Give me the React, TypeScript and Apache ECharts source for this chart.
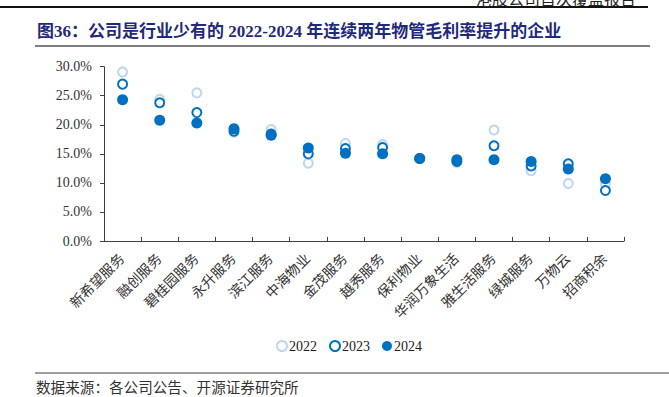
import React, { useEffect, useRef } from "react";
import * as echarts from "echarts";

const categories = [
  "新希望服务", "融创服务", "碧桂园服务", "永升服务", "滨江服务", "中海物业", "金茂服务",
  "越秀服务", "保利物业", "华润万象生活", "雅生活服务", "绿城服务", "万物云", "招商积余",
];
const values2022 = [29.1, 24.4, 25.5, 18.7, 19.2, 13.4, 16.8, 16.6, 14.2, 13.5, 19.1, 12.1, 9.9, 9.8];
const values2023 = [27.0, 23.8, 22.1, 18.9, 18.4, 15.0, 15.9, 16.1, 14.2, 13.7, 16.4, 12.9, 13.3, 8.7];
const values2024 = [24.3, 20.8, 20.3, 19.3, 18.2, 16.0, 15.1, 15.0, 14.2, 14.0, 14.0, 13.7, 12.4, 10.7];
const yTicks = { min: 0, max: 30, interval: 5 };

const titleText = "图36：公司是行业少有的 2022-2024 年连续两年物管毛利率提升的企业";
const headerText = "港股公司首次覆盖报告";
const sourceText = "数据来源：各公司公告、开源证券研究所";

const SERIF = "'Liberation Serif', 'Times New Roman', 'Noto Sans CJK SC', serif";
const CJK = "'Noto Sans CJK SC', sans-serif";

export default function App() {
  const ref = useRef<HTMLDivElement>(null);
  useEffect(() => {
    document.body.style.margin = "0";
    const chart = echarts.init(ref.current!, null, { renderer: "svg" });
    const dark = "#0070C0";
    const light = "#BDD7EE";
    chart.setOption({
      animation: false,
      backgroundColor: "#fff",
      grid: { left: 104, right: 45, top: 66.7, bottom: 156, containLabel: false },
      legend: {
        bottom: 39,
        left: 271,
        itemWidth: 10,
        itemHeight: 10,
        itemGap: 12,
        textStyle: { fontFamily: SERIF, fontSize: 14, color: "#222", padding: [0, 0, 0, -3] },
        data: ["2022", "2023", "2024"],
      },
      xAxis: {
        type: "category",
        data: categories,
        boundaryGap: true,
        axisLine: { lineStyle: { color: "#404040", width: 1 } },
        axisTick: { show: true, inside: true, length: 4, lineStyle: { color: "#404040" } },
        axisLabel: {
          rotate: 45,
          interval: 0,
          margin: 13,
          padding: [0, 2, 0, 0],
          fontFamily: CJK,
          fontSize: 14,
          color: "#333",
        },
      },
      yAxis: {
        type: "value",
        min: yTicks.min,
        max: yTicks.max,
        interval: yTicks.interval,
        splitLine: { show: false },
        axisLine: { show: true, lineStyle: { color: "#404040", width: 1 } },
        axisTick: { show: true, length: 4, lineStyle: { color: "#404040" } },
        axisLabel: {
          formatter: (v: number) => v.toFixed(1) + "%",
          fontFamily: SERIF,
          fontSize: 14,
          color: "#333",
          margin: 12,
        },
      },
      series: [
        {
          name: "2022",
          type: "scatter",
          data: values2022,
          symbol: "circle",
          symbolSize: 9,
          itemStyle: { color: "#fff", borderColor: light, borderWidth: 2, opacity: 1 },
          z: 1,
        },
        {
          name: "2023",
          type: "scatter",
          data: values2023,
          symbol: "circle",
          symbolSize: 9,
          itemStyle: { color: "#fff", borderColor: dark, borderWidth: 2, opacity: 1 },
          z: 2,
        },
        {
          name: "2024",
          type: "scatter",
          data: values2024,
          symbol: "circle",
          symbolSize: 11,
          itemStyle: { color: dark, opacity: 1 },
          z: 3,
        },
      ],
      graphic: [
        { type: "line", shape: { x1: 0, y1: 7, x2: 648, y2: 7 }, style: { stroke: "#111", lineWidth: 2 } },
        {
          type: "text",
          x: 476,
          y: -10,
          style: { text: headerText, fontFamily: CJK, fontSize: 16, fill: "#222" },
        },
        {
          type: "text",
          x: 37,
          y: 23,
          style: {
            text: titleText,
            fontFamily: SERIF,
            fontSize: 17,
            fontWeight: "bold",
            fill: "#1F2A7C",
          },
        },
        { type: "line", shape: { x1: 35, y1: 46, x2: 650, y2: 46 }, style: { stroke: "#7F7F7F", lineWidth: 2 } },
        { type: "line", shape: { x1: 35, y1: 373, x2: 669, y2: 373 }, style: { stroke: "#7F7F7F", lineWidth: 1.5 } },
        {
          type: "text",
          x: 36,
          y: 379,
          style: { text: sourceText, fontFamily: CJK, fontSize: 14.6, fill: "#333" },
        },
      ],
    });
    return () => chart.dispose();
  }, []);
  return <div ref={ref} style={{ width: 669, height: 397 }} />;
}
